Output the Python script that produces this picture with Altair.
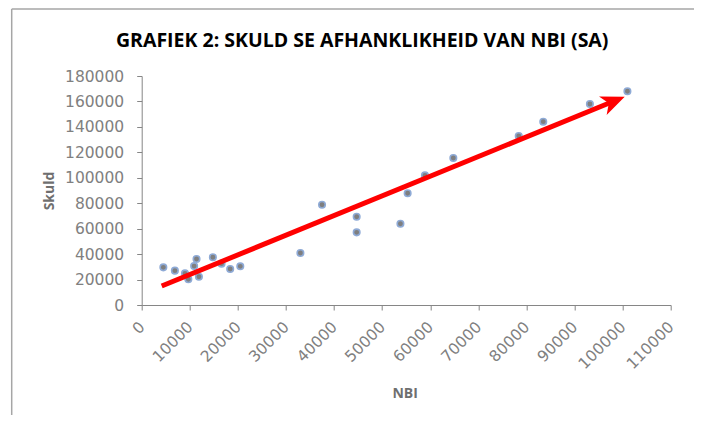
import math
import altair as alt
import pandas as pd

# Data
nbi = [4500, 6900, 9000, 9700, 10900, 11400, 11900, 14800, 16600, 18400, 20500,
       33000, 37500, 44700, 44700, 53800, 55300, 58900, 64800, 78400, 83500, 93200, 101000]
skuld = [29600, 27000, 24900, 20200, 30600, 36200, 22200, 37500, 32500, 28300, 30400,
         40900, 78800, 69400, 57100, 63900, 87800, 101900, 115500, 132800, 144100, 158000, 168000]

arrow_nbi = [4160, 100440]
arrow_skuld = [14900, 163700]

x_ticks = list(range(0, 110001, 10000))
y_ticks = list(range(0, 180001, 20000))

W, H = 529, 229
XMAX, YMAX = 110000, 180000

pts = pd.DataFrame({"NBI": nbi, "Skuld": skuld})

# arrow geometry (pixel direction for head rotation, shorten shaft slightly)
dxp = (arrow_nbi[1] - arrow_nbi[0]) * W / XMAX
dyp = (arrow_skuld[1] - arrow_skuld[0]) * H / YMAX
plen = math.hypot(dxp, dyp)
ang = math.degrees(math.atan2(dyp, dxp))
rot = (360 - ang) % 360
back = 14.0 / plen
shaft = pd.DataFrame({
    "NBI": [arrow_nbi[0], arrow_nbi[1] - (arrow_nbi[1] - arrow_nbi[0]) * back],
    "Skuld": [arrow_skuld[0], arrow_skuld[1] - (arrow_skuld[1] - arrow_skuld[0]) * back],
})
head = pd.DataFrame({"NBI": [arrow_nbi[1]], "Skuld": [arrow_skuld[1]]})

xscale = alt.Scale(domain=[0, XMAX], nice=False)
yscale = alt.Scale(domain=[0, YMAX], nice=False)

AX = dict(grid=False, domainColor="#868686", tickColor="#868686", tickSize=5,
          labelColor="#808080", labelFont="DejaVu Sans", labelFontSize=15.5,
          labelOverlap=False,
          titleColor="#6f6f6f", titleFont="Open Sans", titleFontSize=14,
          titleFontWeight="bold", format="d")

xaxis = alt.Axis(values=x_ticks, labelAngle=315, labelAlign="right",
                 labelBaseline="middle", labelPadding=14,
                 title="NBI", titleX=263, titleY=88,
                 titleBaseline="middle", **AX)
yaxis = alt.Axis(values=y_ticks, labelPadding=13, title="Skuld",
                 titleX=-92, titleY=114.5, titleBaseline="middle",
                 titleAngle=270, **AX)

xenc = alt.X("NBI:Q", scale=xscale, axis=xaxis)
yenc = alt.Y("Skuld:Q", scale=yscale, axis=yaxis)

points = alt.Chart(pts).mark_point(filled=True, size=42, color="#7f7f7f",
                                   stroke="#8eaad6", strokeWidth=1.6, opacity=1).encode(x=xenc, y=yenc)

line = alt.Chart(shaft).mark_line(color="#ff0000", strokeWidth=5, strokeCap="butt").encode(
    x=xenc, y=yenc)

arrowhead = alt.Chart(head).mark_point(
    shape="M0,0 L-2,-0.85 L-1.45,0 L-2,0.85 Z", filled=True, color="#ff0000",
    size=560, angle=rot, opacity=1).encode(x=xenc, y=yenc)

border_top = alt.Chart(head).mark_rule(color="#a6a6a6", strokeWidth=1.5).encode(
    x=alt.value(-130), x2=alt.value(560), y=alt.value(-67))
border_left = alt.Chart(head).mark_rule(color="#a6a6a6", strokeWidth=1.5).encode(
    x=alt.value(-130), y=alt.value(-67), y2=alt.value(400))

chart = alt.layer(points, line, arrowhead, border_top, border_left).properties(
    width=W, height=H,
    title=alt.TitleParams("GRAFIEK 2: SKULD SE AFHANKLIKHEID VAN NBI (SA)",
                          font="Open Sans", fontSize=19.5, fontWeight="bold",
                          color="#000000", anchor="middle", dx=-44, offset=0,
                          dy=43),
    autosize=alt.AutoSizeParams(type="none"),
    padding={"left": 133.7, "top": 68, "right": 23.3, "bottom": 110},
    background="white",
).configure_view(stroke=None)

chart.save("out.html", embed_options={"renderer": "svg", "actions": False})
